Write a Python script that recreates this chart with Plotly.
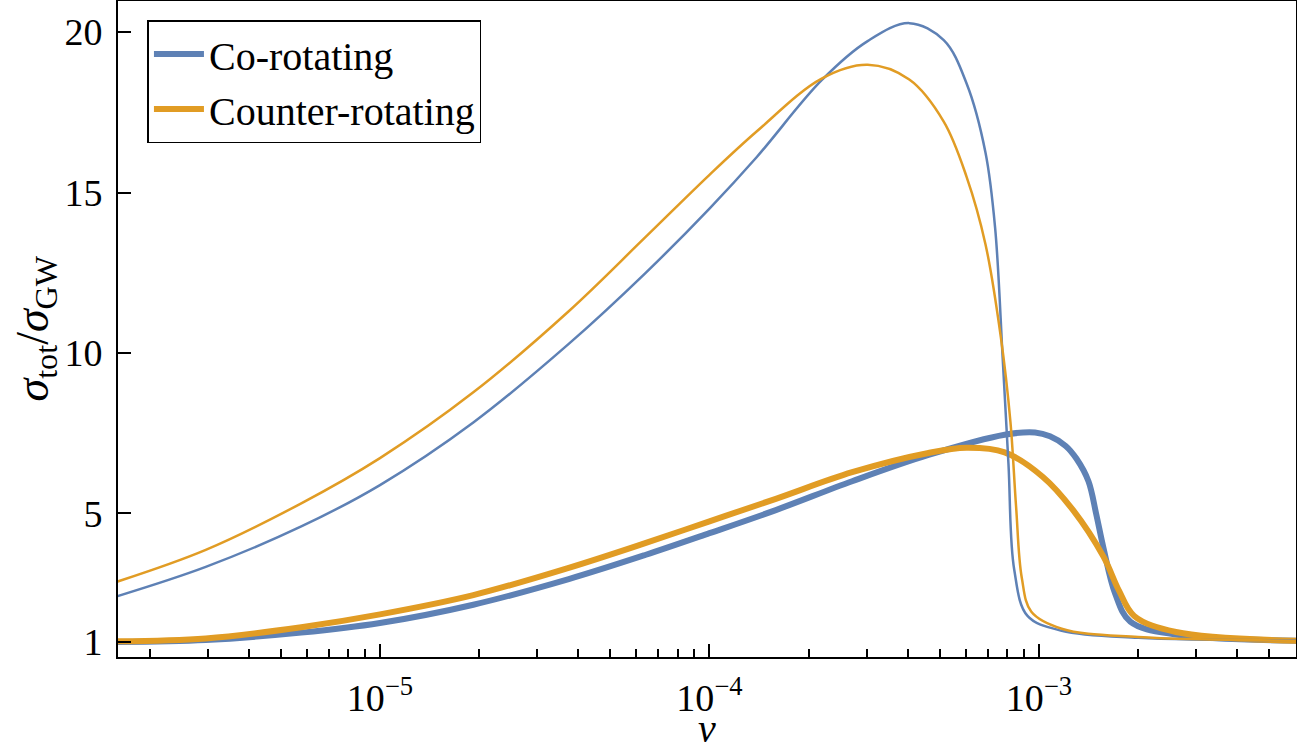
import plotly.graph_objects as go

# ---- data ----
co_thin_v = [1.60e-6, 2.96e-6, 5.77e-6, 1.0e-5, 1.92e-5, 3.74e-5, 6.38e-5, 1.0e-4, 1.39e-4,
             2.19e-4, 3.02e-4, 4.04e-4, 5.14e-4, 6.03e-4, 6.88e-4, 7.36e-4, 7.76e-4, 8.08e-4,
             8.41e-4, 9.23e-4, 1.172e-3, 2.0e-3, 6.03e-3]
co_thin_s = [2.42, 3.33, 4.59, 5.88, 7.83, 10.28, 12.48, 14.5, 16.1,
             18.5, 19.72, 20.28, 19.75, 18.4, 16.25, 13.9, 9.83, 6.54,
             3.25, 1.80, 1.34, 1.12, 1.04]

counter_thin_v = [1.60e-6, 2.96e-6, 5.77e-6, 1.0e-5, 1.92e-5, 3.74e-5, 6.38e-5, 1.0e-4, 1.39e-4,
                  2.19e-4, 3.02e-4, 4.04e-4, 5.14e-4, 6.03e-4, 6.88e-4, 7.66e-4, 8.19e-4, 8.52e-4,
                  8.87e-4, 9.48e-4, 1.172e-3, 2.0e-3, 6.03e-3]
counter_thin_s = [2.875, 3.86, 5.31, 6.72, 8.77, 11.3, 13.6, 15.55, 16.9,
                  18.55, 18.98, 18.52, 17.21, 15.49, 13.39, 10.49, 7.86, 5.22,
                  2.98, 1.93, 1.40, 1.14, 1.03]

co_thick_v = [1.60e-6, 2.96e-6, 5.77e-6, 1.0e-5, 1.92e-5, 3.74e-5, 6.38e-5, 1.0e-4, 1.59e-4,
              2.71e-4, 4.62e-4, 7.87e-4, 9.73e-4, 1.080e-3, 1.205e-3, 1.30e-3, 1.413e-3, 1.490e-3,
              1.571e-3, 1.702e-3, 1.893e-3, 2.604e-3, 6.03e-3]
co_thick_s = [0.99, 1.05, 1.28, 1.58, 2.15, 2.95, 3.7, 4.38, 5.1,
              6.0, 6.82, 7.45, 7.52, 7.4, 7.1, 6.7, 6.0, 5.0,
              3.9, 2.5, 1.62, 1.22, 1.03]

counter_thick_v = [1.60e-6, 2.96e-6, 5.77e-6, 1.0e-5, 1.92e-5, 3.74e-5, 6.38e-5, 1.0e-4, 1.59e-4,
                   2.71e-4, 4.62e-4, 6.03e-4, 7.87e-4, 1.026e-3, 1.271e-3, 1.571e-3, 1.749e-3,
                   1.945e-3, 2.604e-3, 6.03e-3]
counter_thick_s = [1.01, 1.1, 1.45, 1.85, 2.45, 3.3, 4.07, 4.75, 5.45,
                   6.28, 6.88, 7.04, 6.9, 6.14, 5.09, 3.64, 2.59,
                   1.80, 1.30, 1.03]

x_tick_vals = [1e-5, 1e-4, 1e-3]
x_tick_text = ["10<sup>\u22125</sup>", "10<sup>\u22124</sup>", "10<sup>\u22123</sup>"]
x_minor_vals = [m * 10.0 ** e for e in (-6, -5, -4, -3) for m in range(2, 10)]
y_tick_vals = [1, 5, 10, 15, 20]
y_tick_text = ["1", "5", "10", "15", "20"]
x_title = "<i>v</i>"
y_title = "<i>\u03c3</i><sub>tot</sub>/<i>\u03c3</i><sub>GW</sub>"

BLUE = "#5E81B5"
ORANGE = "#E19C24"
FONT = "Liberation Serif"
SMOOTH = 1.0

fig = go.Figure()
fig.add_trace(go.Scatter(x=co_thick_v, y=co_thick_s, mode="lines", name="Co-rotating",
                         line=dict(color=BLUE, width=6, shape="spline", smoothing=SMOOTH)))
fig.add_trace(go.Scatter(x=counter_thick_v, y=counter_thick_s, mode="lines", name="Counter-rotating",
                         line=dict(color=ORANGE, width=6, shape="spline", smoothing=SMOOTH)))
fig.add_trace(go.Scatter(x=co_thin_v, y=co_thin_s, mode="lines", showlegend=False,
                         line=dict(color=BLUE, width=2.5, shape="spline", smoothing=SMOOTH)))
fig.add_trace(go.Scatter(x=counter_thin_v, y=counter_thin_s, mode="lines", showlegend=False,
                         line=dict(color=ORANGE, width=2.5, shape="spline", smoothing=SMOOTH)))

fig.update_layout(
    width=1297, height=750,
    margin=dict(l=118, r=1, t=1, b=93, autoexpand=False),
    paper_bgcolor="white", plot_bgcolor="white",
    font=dict(family=FONT, size=38, color="black"),
    legend=dict(x=0.025, y=0.971, xanchor="left", yanchor="top",
                bgcolor="white", bordercolor="black", borderwidth=1.5,
                font=dict(family=FONT, size=40, color="black"),
                itemwidth=50, tracegroupgap=0),
    xaxis=dict(type="log", range=[-5.795, -2.220], automargin=False,
               tickmode="array", tickvals=x_tick_vals, ticktext=x_tick_text,
               ticks="inside", ticklen=13, tickwidth=1.5, tickcolor="black",
               ticklabelstandoff=6,
               minor=dict(tickmode="array", tickvals=x_minor_vals, ticks="inside",
                          ticklen=8, tickwidth=1.5, tickcolor="black"),
               showline=True, linecolor="black", linewidth=2, mirror=True,
               showgrid=False, zeroline=False,
               tickfont=dict(family=FONT, size=38)),
    yaxis=dict(range=[0.52, 20.97], automargin=False,
               tickmode="array", tickvals=y_tick_vals, ticktext=y_tick_text,
               ticks="inside", ticklen=13, tickwidth=1.5, tickcolor="black",
               ticklabelstandoff=6,
               showline=True, linecolor="black", linewidth=2, mirror=True,
               showgrid=False, zeroline=False,
               tickfont=dict(family=FONT, size=38)),
    annotations=[
        dict(text=x_title, xref="paper", yref="paper", x=0.5, y=-0.147,
             xanchor="center", yanchor="bottom", showarrow=False,
             font=dict(family=FONT, size=40, color="black")),
        dict(text=y_title, xref="paper", yref="paper", x=-0.07, y=0.5,
             xanchor="center", yanchor="middle", textangle=-90, showarrow=False,
             font=dict(family=FONT, size=46, color="black")),
    ],
)

fig.write_html("out.html", config={"displayModeBar": False},
               post_script="document.body.style.margin='0';")
